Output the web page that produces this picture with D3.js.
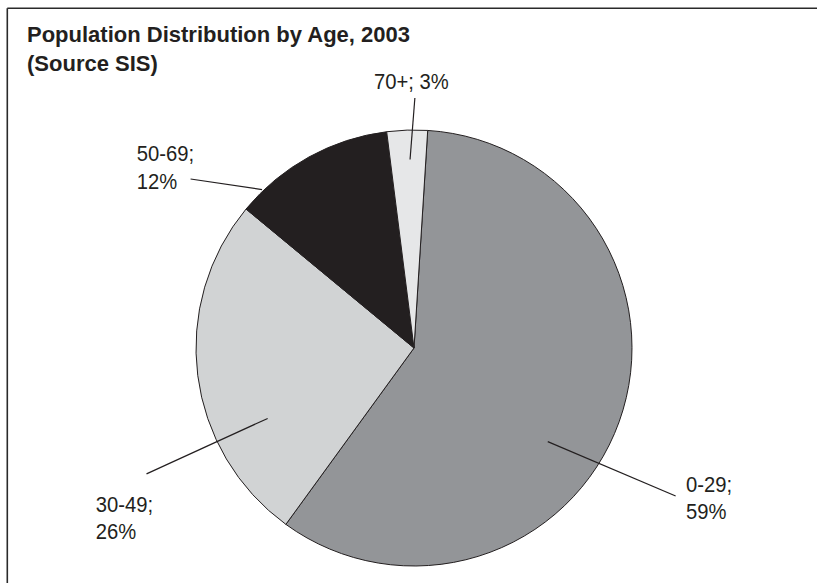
<!DOCTYPE html>
<html>
<head>
<meta charset="utf-8">
<script src="https://cdn.jsdelivr.net/npm/d3@7/dist/d3.min.js"></script>
<style>
  html, body { margin: 0; padding: 0; background: #fff; }
  svg { display: block; }
  text { font-family: "Liberation Sans", Arial, Helvetica, sans-serif; fill: #231f20; }
</style>
</head>
<body>
<svg id="chart" width="817" height="583"></svg>
<script>
// Age groups and their share of the population (%)
const categories = ["0-29", "30-49", "50-69", "70+"];
const shares = [59, 26, 12, 3];

// Slice fills, in the same order as the categories
const fills = ["#939598", "#d1d3d4", "#231f20", "#e6e7e8"];

const titleLines = ["Population Distribution by Age, 2003", "(Source SIS)"];

// Label layout: leader line runs from (innerAngle, innerR) to (outerAngle, outerR),
// polar around the pie centre (degrees clockwise from 12 o'clock, radius in units of r).
// Text is placed at (tx, ty) relative to the pie centre.
const labelLayout = [
  { innerAngle: 125.0, innerR: 0.749, outerAngle: 119.5, outerR: 1.379, tx: 272, ty: 143.5, anchor: "start", lines: 2 },
  { innerAngle: 244.3, innerR: 0.745, outerAngle: 244.8, outerR: 1.356, tx: -318.3, ty: 163.5, anchor: "start", lines: 2 },
  { innerAngle: 316.2, innerR: 1.007, outerAngle: 307.1, outerR: 1.285, tx: -277.3, ty: -187, anchor: "start", lines: 2 },
  { innerAngle: 358.8, innerR: 0.865, outerAngle: 0.2, outerR: 1.147, tx: -2.7, ty: -259, anchor: "middle", lines: 1 }
];

const svg = d3.select("#chart");
const W = 817, H = 583;

// Frame: top and left rules
svg.append("line").attr("x1", 7.3).attr("y1", 8.3).attr("x2", W).attr("y2", 8.3)
  .attr("stroke", "#2a2a2a").attr("stroke-width", 1.6);
svg.append("line").attr("x1", 7.3).attr("y1", 8.3).attr("x2", 7.3).attr("y2", H)
  .attr("stroke", "#2a2a2a").attr("stroke-width", 1.6);

// Title
svg.append("g").selectAll("text").data(titleLines).join("text")
  .attr("x", 27)
  .attr("y", (d, i) => 41.5 + i * 29)
  .attr("font-size", 22)
  .attr("font-weight", "bold")
  .text(d => d);

// Pie
const cx = 414, cy = 348, r = 218;
const deg = Math.PI / 180;
const startOffset = 3.6 * deg;

const data = categories.map((c, i) => ({ name: c, value: shares[i], fill: fills[i], layout: labelLayout[i] }));

const pie = d3.pie()
  .value(d => d.value)
  .sort(null)
  .startAngle(startOffset)
  .endAngle(startOffset + 2 * Math.PI);

const arc = d3.arc().innerRadius(0).outerRadius(r);

const g = svg.append("g").attr("transform", `translate(${cx},${cy})`);

const arcs = pie(data);

g.selectAll("path.slice").data(arcs).join("path")
  .attr("class", "slice")
  .attr("d", arc)
  .attr("fill", d => d.data.fill)
  .attr("stroke", "#231f20")
  .attr("stroke-width", 1)
  .attr("stroke-linejoin", "round");

// Polar helper: angle in degrees clockwise from top, radius in units of r
const polar = (aDeg, rr) => [Math.sin(aDeg * deg) * rr * r, -Math.cos(aDeg * deg) * rr * r];

// Leader lines
g.selectAll("line.leader").data(arcs).join("line")
  .attr("class", "leader")
  .attr("x1", d => polar(d.data.layout.innerAngle, d.data.layout.innerR)[0])
  .attr("y1", d => polar(d.data.layout.innerAngle, d.data.layout.innerR)[1])
  .attr("x2", d => polar(d.data.layout.outerAngle, d.data.layout.outerR)[0])
  .attr("y2", d => polar(d.data.layout.outerAngle, d.data.layout.outerR)[1])
  .attr("stroke", "#231f20")
  .attr("stroke-width", 1.2);

// Labels: "name; value%", split over two lines where laid out that way.
// The label face is a little narrower than Liberation Sans, so each run is condensed slightly.
const labelSize = 21.5, condense = 0.94;
const labels = g.selectAll("text.label").data(arcs).join("text")
  .attr("class", "label")
  .attr("font-size", labelSize)
  .attr("text-anchor", d => d.data.layout.anchor)
  .attr("x", d => d.data.layout.tx)
  .attr("y", d => d.data.layout.ty);

labels.each(function(d) {
  const t = d3.select(this);
  const L = d.data.layout;
  const runs = L.lines === 1
    ? [`${d.data.name}; ${d.data.value}%`]
    : [`${d.data.name};`, `${d.data.value}%`];
  runs.forEach((s, i) => {
    const ts = t.append("tspan").attr("x", L.tx).attr("y", L.ty + i * 27.5).text(s);
    const w = ts.node().getComputedTextLength();
    ts.attr("textLength", w * condense).attr("lengthAdjust", "spacingAndGlyphs");
  });
});
</script>
</body>
</html>
